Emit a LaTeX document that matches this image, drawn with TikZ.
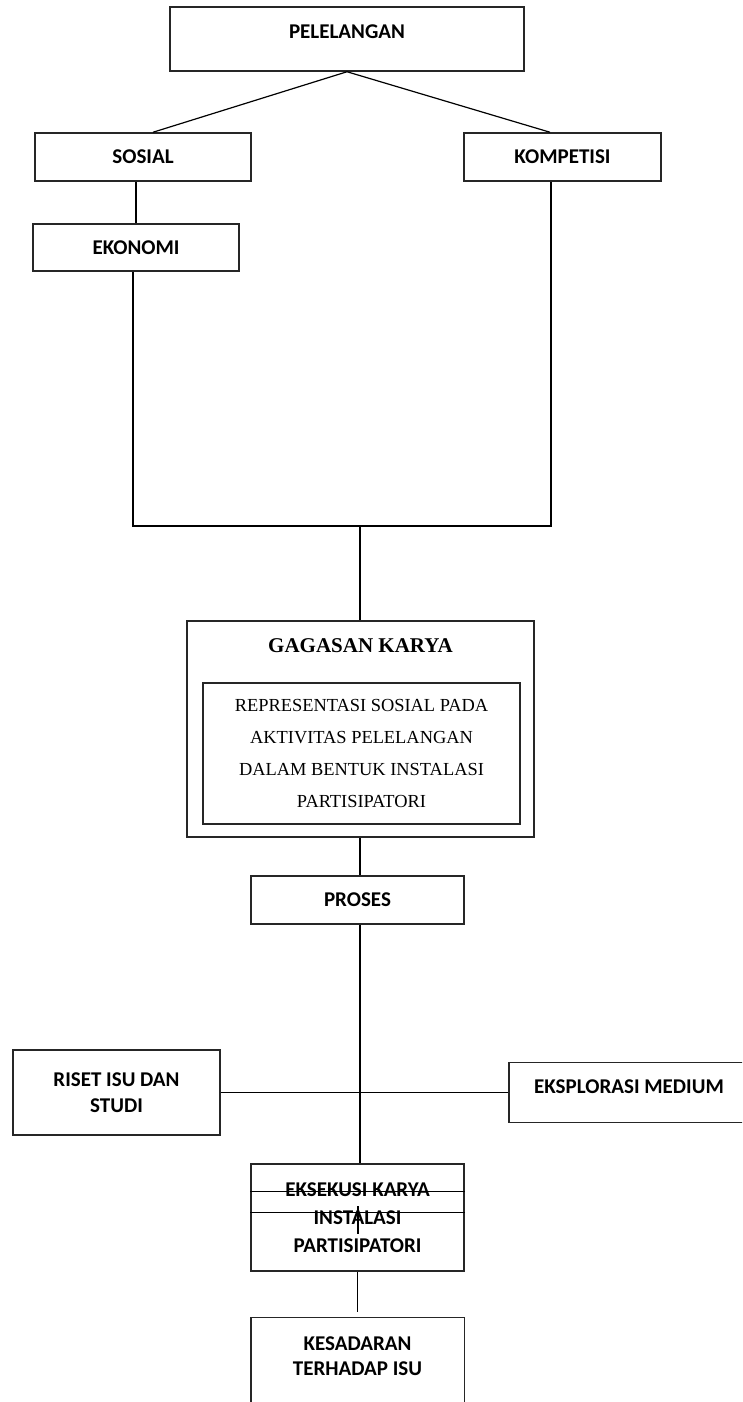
\documentclass[tikz,border=0pt]{standalone}
\usepackage{fontspec}
\setmainfont{Liberation Serif}
\newfontfamily\carlito{Carlito}
\usepackage{tikz}
\usetikzlibrary{calc}

\begin{document}
\begin{tikzpicture}[x=1pt,y=-1pt,
  box/.style={draw=black!85,line width=1.5pt,inner sep=0pt,align=center,font=\carlito\bfseries\fontsize{21}{25.5}\selectfont},
  link/.style={line width=1.2pt}]
  \path[use as bounding box,clip] (0,0) rectangle (742,1402);
  \node[box,minimum width=354,minimum height=64,text depth=14pt] (pel) at (347,39) {PELELANGAN};
  \node[box,minimum width=216,minimum height=48] (sos) at (143,157) {SOSIAL};
  \node[box,minimum width=197,minimum height=48] (kom) at (562.5,157) {KOMPETISI};
  \node[box,minimum width=206,minimum height=47] (eko) at (136,247.5) {EKONOMI};
  \coordinate (jl) at (133,526);
  \coordinate (jr) at (551,526);
  \coordinate (jm) at (360,526);
  \node[box,minimum width=347,minimum height=216] (gag) at (360.5,729) {};
  \node[font=\bfseries\fontsize{21}{25}\selectfont] (judul) at (360.5,646) {GAGASAN KARYA};
  \node[box,font=\fontsize{18.4}{32.3}\selectfont,minimum width=317,minimum height=141] (isi) at (361.5,753.5) {REPRESENTASI SOSIAL PADA\\AKTIVITAS PELELANGAN\\DALAM BENTUK INSTALASI\\PARTISIPATORI};
  \node[box,minimum width=213,minimum height=48] (pros) at (357.5,900) {PROSES};
  \node[box,minimum width=207,minimum height=85] (riset) at (116.5,1092.5) {RISET ISU DAN\\STUDI};
  \node[box,minimum width=240,minimum height=60,text depth=12pt] (eksp) at (629,1092.5) {EKSPLORASI MEDIUM};
  \node[box,font=\carlito\bfseries\fontsize{21}{28}\selectfont,minimum width=213,minimum height=107] (eks) at (357.5,1217.5) {EKSEKUSI KARYA\\INSTALASI\\PARTISIPATORI};
  \node[box,draw=none,minimum width=212,minimum height=76] (kes) at (357.5,1356) {KESADARAN\\TERHADAP ISU};
  \draw[draw=black!85,line width=1.5pt] ($(kes.south west)+(0,20)$) -- (kes.north west) -- (kes.north east) -- ($(kes.south east)+(0,20)$);
  \draw[link] (pel.south) -- ($(sos.north)+(10,0)$);
  \draw[link] (pel.south) -- ($(kom.north)+(-12.5,0)$);
  \draw[link] (sos.south -| eko.north) -- (eko.north);
  \draw[link] (eko.south -| jl) -- (jl) -- (jr) -- (kom.south -| jr);
  \draw[link] (jm) -- (jm |- gag.north);
  \draw[link] (gag.south -| jm) -- (jm |- pros.north);
  \draw[link] (pros.south -| jm) -- (jm |- eks.north);
  \draw[link] (riset.east) -- (eksp.west);
  \draw[link] ($(eks.north west)+(0,28)$) -- ($(eks.north east)+(0,28)$);
  \draw[link] ($(eks.north west)+(0,49)$) -- ($(eks.north east)+(0,49)$);
  \draw[link] ($(eks.north)+(0.5,43)$) -- ($(eks.north)+(0.5,71)$);
  \draw[link] (eks.south) -- ($(kes.north)+(0,-5)$);
\end{tikzpicture}
\end{document}
